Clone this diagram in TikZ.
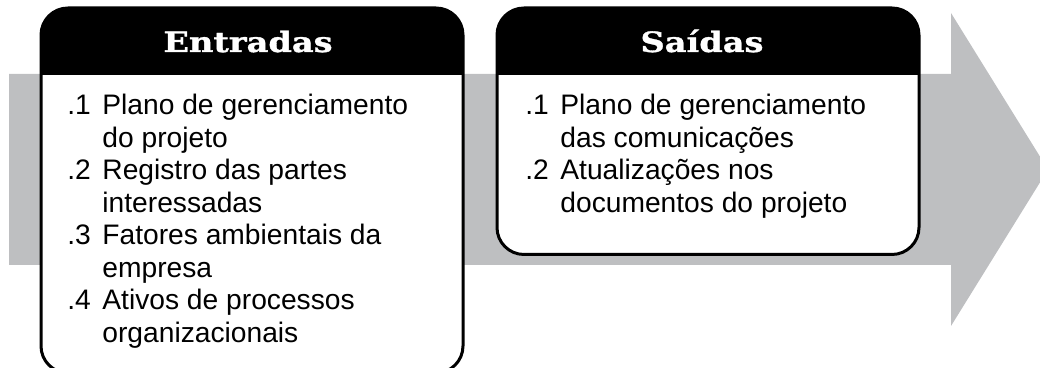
\documentclass[tikz,border=0pt]{standalone}
\usepackage{fontspec}
\usepackage{tikz}
\usepackage{xcolor}
\setmainfont{Liberation Sans}
\newfontfamily\slabfont{DejaVu Serif}[FakeStretch=1.2, FakeBold=1.2]
\definecolor{arrowgray}{RGB}{190,191,193}

\begin{document}
\begin{tikzpicture}[x=0.5pt, y=0.5pt,
		boxline/.style={line width=1.5pt, rounded corners=13.5pt},
		heading/.style={text=white, inner sep=0pt, anchor=base, font=\slabfont\bfseries\fontsize{14}{16}\selectfont},
		itemlist/.style={anchor=base west, inner sep=0pt, font=\fontsize{14.1}{16.25}\selectfont}]
	\useasboundingbox (0,0) rectangle (1040,368);
	
	% Gray arrow
	\fill[arrowgray] (9,294) -- (951,294) -- (951,355) -- (1048,198.5) -- (951,42) -- (951,103) -- (9,103) -- cycle;
	
	% Entradas box
	\fill[white, rounded corners=13.5pt] (41,-5) rectangle (463,360);
	\begin{scope}
		\clip (30,293) rectangle (480,370);
		\fill[black, rounded corners=13.5pt] (41,-5) rectangle (463,360);
	\end{scope}
	\draw[boxline] (41,-5) rectangle (463,360);
	
	% Saidas box
	\fill[white, rounded corners=13.5pt] (497,113.5) rectangle (919,360);
	\begin{scope}
		\clip (480,293) rectangle (930,370);
		\fill[black, rounded corners=13.5pt] (497,113.5) rectangle (919,360);
	\end{scope}
	\draw[boxline] (497,113.5) rectangle (919,360);
	
	% Titles
	\node[heading] (entradas) at (248,316) {Entradas};
	\node[heading] (saidas) at (702,316) {Saídas};
	
	% Lists
	\node[itemlist] (entlist) at (67,253) {\begin{tabular}[t]{@{}p{17.5pt}@{}l@{}}
			.1 & Plano de gerenciamento\\
			& do projeto\\
			.2 & Registro das partes\\
			& interessadas\\
			.3 & Fatores ambientais da\\
			& empresa\\
			.4 & Ativos de processos\\
			& organizacionais
		\end{tabular}};
	\node[itemlist] (saidlist) at (525,253) {\begin{tabular}[t]{@{}p{17.5pt}@{}l@{}}
			.1 & Plano de gerenciamento\\
			& das comunicações\\
			.2 & Atualizações nos\\
			& documentos do projeto
		\end{tabular}};
\end{tikzpicture}
\end{document}
